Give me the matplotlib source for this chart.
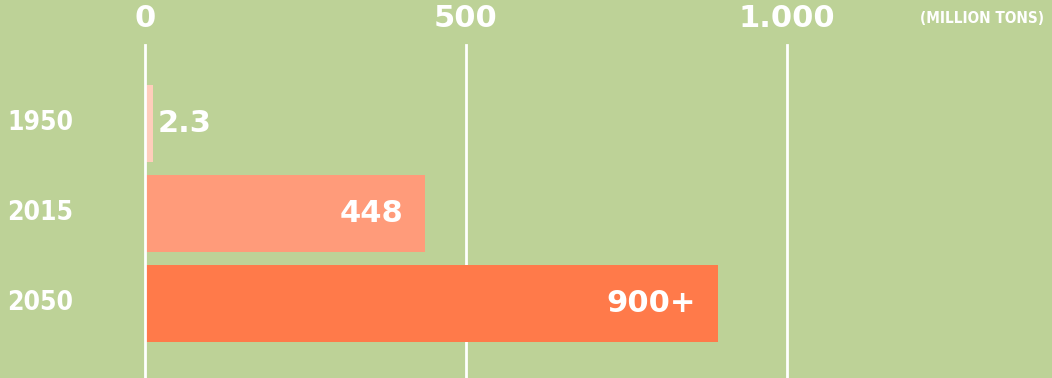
import matplotlib.pyplot as plt
import matplotlib.transforms as mtransforms

years = ["1950", "2015", "2050"]
values = [2.3, 436, 892]          # bar lengths as drawn in the picture
value_labels = ["2.3", "448", "900+"]
tick_values = [0, 500, 1000]
tick_labels = ["0", "500", "1.000"]
unit_label = "(MILLION TONS)"

bg = "#bdd297"
colors = ["#ffcdbb", "#ff9b7a", "#ff7a4a"]

fig = plt.figure(figsize=(10.52, 3.78), dpi=100)
fig.patch.set_facecolor(bg)
ax = fig.add_axes([0, 0, 1, 1])
ax.set_facecolor(bg)
ax.set_xlim(-226, 1413)
ax.set_ylim(2.828, -1.372)
ax.axis("off")

# grid lines (start below the tick labels); the zero line sits over the bars
for t in tick_values:
    ax.axvline(t, ymin=0, ymax=0.881, color="white", lw=2,
               zorder=4 if t == 0 else 1)

# tiny 1950 value gets a minimum visible width
widths = [max(v, 12) for v in values]
ypos = list(range(len(years)))
ax.barh(ypos, widths, height=0.86, color=colors, zorder=2)

bold_wide = dict(family="DejaVu Sans", weight="heavy", color="white")
narrow = dict(family=["Liberation Sans Narrow", "DejaVu Sans"],
              weight="bold", color="white", stretch="condensed")

top = mtransforms.blended_transform_factory(ax.transData, ax.transAxes)
for t, lab in zip(tick_values, tick_labels):
    ax.text(t, 0.952, lab, transform=top, ha="center", va="center",
            fontsize=22, **bold_wide)
ax.text(0.992, 0.952, unit_label, transform=ax.transAxes, ha="right",
        va="center", fontsize=11, **narrow)

left = mtransforms.blended_transform_factory(ax.transAxes, ax.transData)
for y, yr in zip(ypos, years):
    ax.text(0.038, y, yr, transform=left, ha="center", va="center",
            fontsize=19, **narrow)

for y, w, lab in zip(ypos, widths, value_labels):
    if w < 100:
        ax.text(w + 8, y, lab, ha="left", va="center", fontsize=22,
                zorder=3, **bold_wide)
    else:
        ax.text(w - 34, y, lab, ha="right", va="center", fontsize=22,
                zorder=3, **bold_wide)

fig.savefig("out.png", dpi=100, facecolor=bg)
